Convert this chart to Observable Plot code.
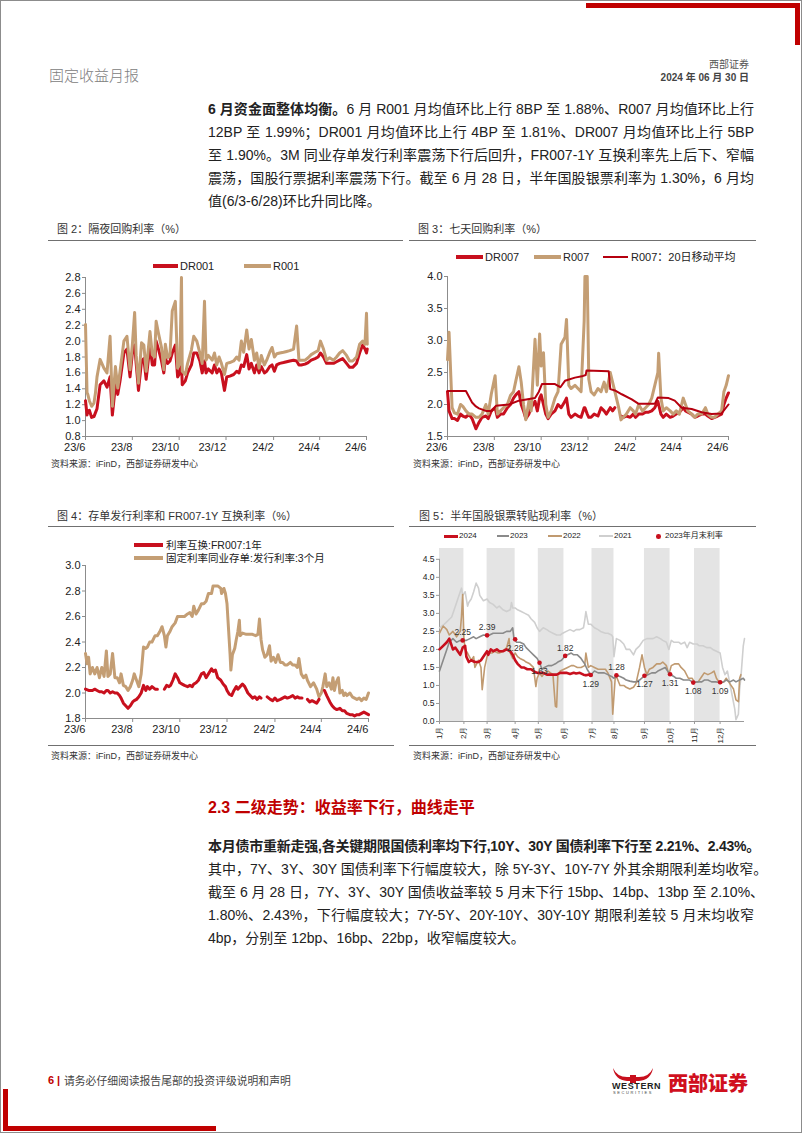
<!DOCTYPE html>
<html><head><meta charset="utf-8">
<script src="https://cdn.jsdelivr.net/npm/d3@7"></script>
<script src="https://cdn.jsdelivr.net/npm/@observablehq/plot@0.6"></script>
<style>
html,body{margin:0;padding:0;background:#fff;}
#page{position:relative;width:802px;height:1133px;overflow:hidden;box-sizing:border-box;border:1px solid #8c8c8c;
 font-family:"Liberation Sans","Noto Sans CJK SC",sans-serif;color:#222;}
.abs{position:absolute;white-space:nowrap;}
.jl{position:absolute;white-space:nowrap;width:546px;text-align:justify;text-align-last:justify;font-size:14px;line-height:20px;height:20px;}
.pl{position:absolute;white-space:nowrap;font-size:14px;line-height:20px;height:20px;}
.chart{position:absolute;}
</style>
</head><body><div id="page"></div>
<script>
// ---------------- DATA ----------------
// Fig 2: overnight repo (day offsets from 2023-06-28)
const days2 = [0,2,3,5,8,11,13,15,19,24,28,32,35,39,42,45,50,54,58,61,64,66,69,73,76,79,84,87,90,92,95,99,102,104,107,110,113,117,120,123,125,126,130,133,138,141,145,149,152,155,157,160,165,168,171,174,177,181,184,188,193,197,200,203,206,210,213,216,220,223,226,229,233,236,240,243,246,249,253,258,262,266,271,275,278,281,286,290,294,299,303,306,310,314,318,323,327,331,335,340,344,348,353,357,361,364,366,367];
const r001 = [2.21,1.35,1.33,1.25,1.18,1.22,1.35,1.55,1.77,1.66,
 1.6,2.06,1.18,1.68,1.41,1.62,2.0,2.06,1.64,1.95,
 2.36,1.82,1.47,1.98,1.95,1.62,2.12,1.83,1.8,2.25,
 2.1,1.92,1.64,1.96,1.79,1.82,2.38,2.5,1.66,1.72,
 2.8,1.62,1.58,1.72,1.89,2.06,2.0,1.85,1.72,2.5,
 1.76,1.82,1.76,1.85,1.7,1.8,1.72,1.58,1.72,1.73,
 1.75,1.8,1.76,2.0,1.86,2.14,1.9,2.02,1.76,1.85,
 1.66,1.82,1.7,1.76,1.86,1.92,1.8,1.84,1.85,1.86,
 1.87,1.88,1.9,2.19,1.76,1.76,1.76,1.79,1.83,1.86,
 1.88,2.0,1.9,1.76,1.79,1.76,1.8,1.85,1.88,1.82,
 1.75,1.75,1.8,1.96,2.0,1.96,2.35,1.96];
const dr001 = [1.25,1.07,1.12,1.13,1.04,1.05,1.1,1.15,1.45,1.5,
 1.42,1.55,1.07,1.45,1.33,1.5,1.85,1.9,1.55,1.85,
 1.95,1.72,1.38,1.75,1.78,1.52,1.95,1.7,1.7,2.0,
 1.9,1.75,1.6,1.78,1.72,1.75,1.85,1.95,1.55,1.6,
 1.75,1.45,1.5,1.6,1.7,1.85,1.85,1.75,1.6,1.75,
 1.6,1.65,1.6,1.7,1.6,1.65,1.6,1.38,1.55,1.56,
 1.58,1.62,1.6,1.7,1.68,1.83,1.65,1.72,1.6,1.7,
 1.6,1.68,1.6,1.62,1.68,1.7,1.62,1.7,1.72,1.73,
 1.74,1.75,1.76,1.75,1.7,1.7,1.71,1.73,1.76,1.78,
 1.8,1.85,1.8,1.72,1.72,1.72,1.74,1.76,1.78,1.72,
 1.67,1.67,1.72,1.85,1.95,1.9,1.85,1.9];
const ticks2Y = [0.8,1.0,1.2,1.4,1.6,1.8,2.0,2.2,2.4,2.6,2.8];

// Fig 3: 7-day repo
const days3 = [0,2,6,9,13,17,20,24,28,32,37,41,45,50,53,57,62,65,69,73,78,82,86,89,93,96,99,102,106,109,114,117,120,122,125,128,131,135,140,144,148,153,155,158,161,166,170,174,178,179,182,184,187,191,196,200,204,207,212,215,218,223,226,229,233,238,242,245,249,254,258,262,266,270,274,275,278,281,285,290,294,298,302,307,310,313,318,322,326,331,336,339,344,348,352,357,360,363,366];
const r007 = [2.7,3.13,1.95,1.87,1.85,2.0,1.97,1.9,1.85,1.85,
 1.8,1.8,1.85,2.0,1.85,2.16,2.45,1.85,1.9,1.95,
 2.0,2.14,2.2,2.37,2.59,2.35,2.0,1.76,2.05,1.9,
 3.02,2.3,3.1,2.6,2.81,2.0,1.8,1.9,2.1,2.2,
 2.94,3.05,3.33,2.3,2.25,2.3,2.25,2.2,3.3,4.0,
 4.0,2.4,2.2,2.15,2.25,2.2,2.35,2.2,2.5,2.35,
 2.2,1.95,1.76,1.8,1.85,1.95,1.9,1.85,2.0,1.9,
 1.95,2.0,2.1,2.3,2.5,2.8,2.1,1.9,1.95,1.9,
 1.85,1.9,1.85,2.1,2.0,1.9,1.85,1.8,1.85,1.85,
 1.95,1.85,1.8,1.8,1.85,1.9,2.2,2.3,2.45];
const dr007 = [2.2,1.9,1.78,1.78,1.75,1.85,1.82,1.8,1.85,1.78,
 1.62,1.72,1.8,1.82,1.78,1.9,1.95,1.8,1.85,1.85,
 1.95,2.0,2.1,2.15,2.2,2.0,1.9,1.78,1.85,1.95,
 2.05,1.9,2.1,2.15,2.0,1.85,1.78,1.85,1.9,2.0,
 1.95,2.05,2.1,1.85,1.8,1.85,1.82,1.8,1.95,1.95,
 1.85,1.8,1.8,1.85,1.82,1.95,1.9,1.85,1.95,1.9,
 1.95,null,1.82,1.8,1.82,1.8,1.85,1.8,1.85,1.85,
 1.88,1.88,1.9,1.95,2.05,2.0,1.85,1.8,1.85,1.8,
 1.82,1.85,1.88,1.95,1.9,1.88,1.85,1.8,1.82,1.85,
 1.85,1.82,1.78,1.8,1.82,1.85,2.0,2.1,2.18];
const maDays = [0,24,28,32,37,41,50,58,63,80,93,114,119,123,140,147,153,166,175,180,181,210,212,218,227,240,249,270,274,288,296,305,318,331,344,357,366];
const r007ma20 = [2.21,2.21,2.12,2.03,1.97,1.94,1.9,1.9,1.98,2.0,2.06,2.1,2.2,2.32,2.32,2.27,2.37,2.42,2.44,2.46,2.53,2.52,2.24,2.22,2.16,2.08,2.01,2.01,2.11,2.1,2.06,1.95,1.93,1.88,1.85,1.86,2.0];
const ticks3Y = [1.5,2.0,2.5,3.0,3.5,4.0];

// Fig 4: CD issuance rate and FR007-1Y swap
const daysCd = [0,2,4,6,9,12,15,18,21,24,27,29,32,35,38,41,44,46,49,52,55,58,61,63,66,69,72,75,78,80,83,86,90,93,96,99,102,104,106,109,112,116,119,122,125,128,132,135,138,140,143,146,150,153,156,159,163,165,168,171,175,176,179,181,183,185,187,188,190,193,195,197,199,200,203,208,212,216,220,223,225,227,229,232,235,238,240,243,246,249,252,255,258,261,265,268,271,274,276,279,282,285,287,291,295,299,302,305,307,310,312,315,318,320,322,324,327,329,332,334,336,338,342,345,348,351,354,357,360,363,366];
const cd3m = [2.31,2.23,2.28,2.15,2.2,2.15,2.2,2.12,2.2,2.13,
 2.33,2.13,2.15,2.31,2.12,2.12,2.08,2.15,2.06,2.05,
 2.02,2.05,2.1,2.15,2.1,2.05,2.15,2.36,2.35,2.36,
 2.4,2.4,2.45,2.45,2.48,2.52,2.45,2.36,2.45,2.48,
 2.52,2.55,2.6,2.6,2.6,2.6,2.62,2.63,2.6,2.68,
 2.62,2.65,2.7,2.7,2.72,2.78,2.78,2.84,2.84,2.84,
 2.82,2.78,2.82,2.78,2.7,2.5,2.3,2.18,2.3,2.35,
 2.42,2.48,2.57,2.45,2.47,2.46,2.46,2.46,2.45,2.46,
 2.58,2.42,2.34,2.28,2.3,2.37,2.25,2.28,2.24,2.3,
 2.24,2.24,2.22,2.22,2.24,2.22,2.22,2.2,2.27,2.15,
 2.12,2.14,2.1,2.05,2.08,2.03,1.97,2.0,2.05,2.15,
 2.05,2.08,2.03,2.12,2.02,2.08,2.12,2.0,2.02,1.98,
 2.0,1.98,2.0,1.97,1.96,1.95,1.96,1.94,1.96,1.95,
 2.0];
const daysSwap = [0,4,9,12,15,18,21,24,27,29,32,35,38,41,44,46,49,52,55,58,61,63,66,69,72,75,78,80,83,86,90,93,94,102,105,108,110,113,116,119,122,125,128,132,135,138,140,143,146,150,153,156,159,163,165,168,171,175,178,181,183,186,189,192,195,197,200,203,206,210,213,216,219,222,225,227,229,235,239,242,245,248,252,255,258,261,265,268,271,274,277,280,283,287,290,293,296,299,302,306,309,312,316,319,322,325,329,332,335,338,342,345,348,351,354,357,360,363,366];
const fr007swap1y = [2.03,2.02,2.02,2.03,2.02,2.01,2.01,2.0,2.02,2.02,
 2.0,2.01,2.0,2.0,1.98,1.96,1.92,1.9,1.88,1.9,
 1.93,1.94,1.95,1.97,2.0,2.06,2.02,2.05,2.03,2.05,
 2.03,2.03,null,2.03,2.06,2.05,2.06,2.1,2.15,2.12,
 2.08,2.07,2.06,2.05,2.06,2.05,2.07,2.08,2.1,2.15,
 2.16,2.12,2.15,2.19,2.17,2.18,2.12,2.1,2.07,2.05,
 2.02,1.99,1.98,2.02,2.05,2.03,2.05,2.07,2.05,2.0,
 1.98,1.96,1.97,1.95,1.97,1.96,null,1.97,1.95,1.94,
 1.96,1.94,1.95,1.96,1.97,1.96,1.97,1.98,1.96,1.97,
 1.96,1.96,null,1.95,1.93,1.94,1.93,1.92,1.95,null,
 2.02,1.98,1.93,1.9,1.88,1.87,1.88,1.86,1.86,1.84,
 1.83,1.83,1.82,1.83,1.83,1.84,1.85,1.84,1.83];
const ticks4Y = [1.8,2.0,2.2,2.4,2.6,2.8,3.0];
const xTickLabels = ["23/6","23/8","23/10","23/12","24/2","24/4","24/6"];

// Fig 5: half-year bank acceptance discount rate, [trading-day position in year, rate]
const monthLabels = ["1月","2月","3月","4月","5月","6月","7月","8月","9月","10月","11月","12月"];
const monthPos = [0,20,39,62,81,102,125,143,168,189,209,230];
const shadedMonths = [0,2,4,6,8,10];
const y2021 = [[0,2.6],[4,2.7],[10,2.9],[13,3.2],[15,3.4],[18,3.7],[19,3.5],[21,3.6],[23,3.2],[24,3.3],[26,3.4],[28,3.6],[30,3.84],[32,3.7],[33,3.5],[36,3.35],[39,3.4],[41,3.3],[44,3.25],[47,3.15],[49,3.2],[52,3.1],[55,3.05],[58,3.1],[59,3.3],[60,3.15],[62,3.15],[64,3.1],[67,3.05],[70,3.0],[73,2.95],[75,2.85],[78,2.75],[80,2.6],[82,2.5],[85,2.6],[88,2.55],[90,2.5],[93,2.45],[96,2.4],[99,2.4],[101,2.45],[104,2.5],[107,2.55],[110,2.5],[112,2.55],[115,2.55],[118,2.6],[119,2.8],[120,3.05],[122,2.7],[124,2.7],[127,2.6],[130,2.55],[132,2.5],[136,2.45],[138,2.45],[141,2.4],[142,2.35],[143,1.8],[145,2.3],[148,2.25],[151,2.15],[153,2.0],[156,2.0],[159,1.85],[161,2.0],[164,2.1],[167,2.25],[170,2.3],[172,2.3],[175,2.3],[178,2.35],[181,2.3],[183,2.25],[186,2.2],[188,2.0],[190,2.25],[192,2.2],[196,2.2],[198,2.15],[201,2.2],[203,2.05],[205,2.2],[208,2.15],[211,2.15],[213,2.1],[216,2.1],[219,2.05],[222,2.05],[224,2.0],[227,1.95],[230,1.9],[232,1.5],[234,1.3],[236,1.4],[238,1.05],[240,0.7],[242,0.35],[243,0.05],[245,0.2],[246,0.9],[247,1.2],[249,2.1],[250,2.3]];
const y2022 = [[0,2.45],[3,2.65],[6,2.55],[8,2.4],[11,2.5],[14,2.35],[17,2.5],[18,2.9],[19,3.52],[20,2.3],[21,2.0],[23,1.9],[26,1.7],[28,1.8],[29,1.5],[32,1.7],[34,1.5],[35,0.88],[37,1.5],[39,1.8],[40,1.9],[43,1.9],[45,1.95],[48,1.9],[49,1.9],[52,1.95],[55,2.05],[57,2.3],[58,1.9],[60,1.75],[62,1.9],[64,1.8],[66,1.75],[69,1.7],[71,1.65],[74,1.6],[77,1.5],[79,0.97],[80,1.2],[82,1.35],[84,1.25],[86,1.35],[89,1.4],[91,1.35],[93,1.3],[95,0.42],[96,0.4],[97,1.3],[99,1.4],[102,1.45],[105,1.5],[108,1.55],[110,1.55],[113,1.5],[116,1.5],[119,1.55],[120,1.9],[122,1.5],[124,1.55],[127,1.5],[130,1.45],[133,1.45],[136,1.45],[138,1.35],[141,1.1],[142,0.2],[144,1.2],[145,1.25],[148,1.0],[151,1.0],[153,0.95],[156,0.9],[159,0.95],[161,1.05],[164,1.5],[166,1.85],[168,1.5],[170,1.3],[172,1.45],[175,1.5],[178,1.6],[181,1.6],[183,1.65],[186,1.55],[188,1.3],[190,1.55],[193,1.6],[196,1.6],[198,1.5],[201,1.4],[204,1.2],[207,1.2],[209,1.1],[212,1.1],[215,1.25],[217,1.35],[220,1.3],[223,1.35],[225,1.4],[227,1.2],[230,1.05],[233,1.1],[235,1.2],[238,1.05],[241,0.9],[243,0.6],[245,0.55],[246,1.2],[247,1.3]];
const y2023 = [[0,1.4],[3,1.7],[6,2.0],[8,2.2],[11,2.3],[14,2.2],[17,2.25],[19,2.24],[22,2.25],[25,2.3],[28,2.35],[30,2.3],[33,2.35],[36,2.4],[39,2.39],[41,2.4],[44,2.45],[47,2.45],[49,2.45],[52,2.45],[55,2.5],[58,2.5],[60,2.6],[61,2.3],[62,2.28],[63,2.2],[66,2.2],[69,2.15],[71,2.05],[74,1.95],[77,1.85],[80,1.75],[82,1.63],[84,1.45],[86,1.5],[89,1.55],[92,1.55],[95,1.6],[97,1.65],[100,1.7],[103,1.82],[105,1.85],[108,1.9],[110,1.85],[113,1.85],[116,1.75],[119,1.6],[121,1.45],[124,1.29],[127,1.4],[130,1.35],[132,1.35],[135,1.35],[138,1.3],[141,1.25],[143,1.2],[145,1.28],[148,1.25],[151,1.2],[153,1.15],[156,1.12],[159,1.1],[161,1.1],[164,1.15],[168,1.27],[171,1.3],[174,1.35],[177,1.35],[179,1.4],[182,1.45],[185,1.5],[187,1.4],[189,1.31],[192,1.25],[194,1.2],[197,1.2],[200,1.15],[202,1.15],[205,1.15],[208,1.08],[212,1.1],[215,1.1],[217,1.15],[220,1.15],[223,1.1],[226,1.1],[230,1.09],[233,1.1],[235,1.15],[238,1.1],[241,1.15],[243,1.1],[246,1.15],[249,1.2],[250,1.15]];
const y2024 = [[0,2.0],[3,2.1],[6,2.2],[8,2.3],[9,2.2],[11,2.0],[13,2.05],[15,1.95],[17,1.85],[19,2.05],[21,2.1],[22,1.8],[24,1.65],[26,1.7],[29,1.65],[32,1.65],[34,1.7],[37,1.85],[39,1.95],[40,1.85],[42,2.0],[44,1.95],[47,2.0],[49,1.95],[52,1.95],[55,2.0],[58,1.95],[60,1.85],[62,1.7],[64,1.6],[67,1.5],[69,1.5],[72,1.45],[75,1.45],[77,1.4],[80,1.35],[82,1.35],[85,1.35],[88,1.3],[90,1.3],[93,1.3],[96,1.3],[99,1.35],[101,1.35],[104,1.35],[107,1.32],[110,1.35],[112,1.33],[115,1.35],[118,1.3],[120,1.28],[122,1.3],[124,1.3]];
const monthEnd2023 = [[19,2.25],[39,2.39],[62,2.28],[82,1.63],[103,1.82],[124,1.29],[145,1.28],[168,1.27],[189,1.31],[208,1.08],[230,1.09]];
const ticks5Y = [0,0.5,1.0,1.5,2.0,2.5,3.0,3.5,4.0,4.5];

// ---------------- RENDER ----------------
const RED = "#c8101e", TAN = "#c49e74", DKRED = "#b5000f";
const G23 = "#8a8a8a", G21 = "#cfcfcf", T22 = "#c09a70";
const page = document.getElementById("page");

function el(html, css, cls = "abs") {
  const d = document.createElement("div");
  d.className = cls; d.innerHTML = html; d.style.cssText += css;
  page.appendChild(d); return d;
}
function txt(html, x, y, size, extra = "", anchor = "start") {
  const h = Math.round(size * 1.5);
  const pos = anchor === "end" ? `right:${802 - x}px;` : `left:${x}px;`;
  return el(html, `${pos}top:${y - h / 2}px;font-size:${size}px;line-height:${h}px;${extra}`);
}
function bar(x1, x2, y1, y2, color) {
  return el("", `left:${x1}px;top:${y1}px;width:${x2 - x1}px;height:${y2 - y1}px;background:${color};`);
}
function swatch(x1, x2, y, h, color) { return bar(x1, x2, y - h / 2, y + h / 2, color); }

// frame decorations
bar(585, 797, 2, 7, "#c00000");
bar(794, 799, 2, 44, "#c00000");
bar(2, 7, 1088, 1130, "#c00000");
bar(2, 215, 1125, 1130, "#c00000");

// header
txt("固定收益月报", 48, 73, 15, "color:#808080;font-family:'Noto Sans CJK SC';font-weight:300;");
txt("西部证券", 750, 62, 10, "color:#555;font-family:'Noto Sans CJK SC';", "end");
txt("2024 年 06 月 30 日", 750, 76, 10, "color:#444;font-weight:bold;", "end");

// body paragraph 1
const p1 = [
  "<b>6 月资金面整体均衡。</b>6 月 R001 月均值环比上行 8BP 至 1.88%、R007 月均值环比上行",
  "12BP 至 1.99%；DR001 月均值环比上行 4BP 至 1.81%、DR007 月均值环比上行 5BP",
  "至 1.90%。3M 同业存单发行利率震荡下行后回升，FR007-1Y 互换利率先上后下、窄幅",
  "震荡，国股行票据利率震荡下行。截至 6 月 28 日，半年国股银票利率为 1.30%，6 月均",
  "值(6/3-6/28)环比升同比降。"
];
p1.forEach((s, i) => {
  const last = i === p1.length - 1;
  el(s, `left:207px;top:${108 + 23 * i - 10}px;`, last ? "pl" : "jl");
});

// section heading + paragraph 2
txt("2.3 二级走势：收益率下行，曲线走平", 207, 807, 16, "color:#c00000;font-weight:bold;");
const p2 = [
  ["<b>本月债市重新走强,各关键期限国债利率均下行,10Y、30Y 国债利率下行至 2.21%、2.43%。</b>", "pl", "letter-spacing:-0.25px;"],
  ["其中，7Y、3Y、30Y 国债利率下行幅度较大，除 5Y-3Y、10Y-7Y 外其余期限利差均收窄。", "pl", ""],
  ["截至 6 月 28 日，7Y、3Y、30Y 国债收益率较 5 月末下行 15bp、14bp、13bp 至 2.10%、", "jl", ""],
  ["1.80%、2.43%，下行幅度较大；7Y-5Y、20Y-10Y、30Y-10Y 期限利差较 5 月末均收窄", "jl", ""],
  ["4bp，分别至 12bp、16bp、22bp，收窄幅度较大。", "pl", ""]
];
p2.forEach(([s, c, x], i) => el(s, `left:207px;top:${845 + 23 * i - 10}px;${x}`, c));

// footer
txt("6", 47, 1079, 11, "color:#c00000;font-weight:bold;");
txt("|", 56, 1079, 11, "color:#c00000;font-weight:bold;");
txt("请务必仔细阅读报告尾部的投资评级说明和声明", 63, 1079, 10.8, "color:#444;font-family:'Noto Sans CJK SC';");
el(`<svg width="44" height="16" viewBox="0 0 44 16"><path d="M2,1 Q6,10 16,10 L28,10 Q38,10 42,1 Q40,13 28,14 L16,14 Q4,13 2,1 Z" fill="#c8101e"/><rect x="19" y="8" width="6" height="8" fill="#c8101e"/></svg>`,
  "left:610px;top:1066px;line-height:0;");
txt("WESTERN", 611, 1085, 9, "font-weight:bold;color:#222;letter-spacing:0.6px;");
txt("SECURITIES", 612, 1091.5, 4, "color:#444;letter-spacing:1.6px;");
txt("西部证券", 667, 1082, 20, "color:#d0101e;font-weight:900;font-family:'Noto Sans CJK SC';");

// chart titles, rules, sources
const CJK = "font-family:'Liberation Sans','Noto Sans CJK SC';color:#333;";
txt("图 2：隔夜回购利率（%）", 56, 228, 11, CJK);
bar(47, 402, 238.5, 239.8, "#707070");
txt("资料来源：iFinD，西部证券研发中心", 50, 463, 9, CJK);
txt("图 3：七天回购利率（%）", 417, 228, 11, CJK);
bar(408, 755, 238.5, 239.8, "#707070");
txt("资料来源：iFinD，西部证券研发中心", 412, 463, 9, CJK);
txt("图 4：存单发行利率和 FR007-1Y 互换利率（%）", 56, 515, 11, CJK);
bar(47, 393, 524.5, 525.8, "#707070");
bar(47, 393, 743.5, 744.8, "#707070");
txt("资料来源：iFinD，西部证券研发中心", 50, 755, 9, CJK);
txt("图 5：半年国股银票转贴现利率（%）", 418, 515, 11, CJK);
bar(408, 755, 524.5, 525.8, "#707070");
bar(408, 755, 743.5, 744.8, "#707070");
txt("资料来源：iFinD，西部证券研发中心", 412, 755, 9, CJK);

// legends
const LG = "color:#222;";
swatch(152, 177, 265, 4, RED); txt("DR001", 179, 265, 11, LG);
swatch(243, 270, 265, 4, TAN); txt("R001", 272, 265, 11, LG);
swatch(455, 482, 256, 4, RED); txt("DR007", 484, 256, 11, LG);
swatch(533, 560, 256, 4, TAN); txt("R007", 562, 256, 11, LG);
swatch(602, 627, 256, 2.5, DKRED); txt("R007：20日移动平均", 630, 256, 11, LG);
swatch(133, 162, 544, 4, RED); txt("利率互换:FR007:1年", 165, 544, 10.5, LG);
swatch(133, 162, 557, 4, TAN); txt("固定利率同业存单:发行利率:3个月", 165, 557, 10.5, LG);
swatch(443, 457, 535, 3, RED); txt("2024", 458, 535, 8, LG);
swatch(496, 508, 535, 1.6, G23); txt("2023", 509, 535, 8, LG);
swatch(547, 561, 535, 1.6, T22); txt("2022", 562, 535, 8, LG);
swatch(598, 612, 535, 1.6, G21); txt("2021", 613, 535, 8, LG);
el("", `left:655px;top:533px;width:4.6px;height:4.6px;border-radius:50%;background:${RED};`);
txt("2023年月末利率", 664, 535, 8, LG);

// ---------- charts ----------
const toDate = d => new Date(2023, 5, 28 + d);
const xTickDates = xTickLabels.map((s, i) => new Date(2023, 5 + 2 * i, 28));
const fmtX = d => xTickLabels[xTickDates.findIndex(t => +t === +d)];
const rows = (days, vals) => days.map((d, i) => ({date: toDate(d), v: vals[i] == null ? NaN : vals[i]}));
const STYLE = "font-family:'Liberation Sans',Arial,sans-serif;font-size:11px;color:#222;background:transparent;overflow:visible;";

function place(svg, left, top) {
  const w = document.createElement("div");
  w.className = "chart"; w.style.left = left + "px"; w.style.top = top + "px";
  w.appendChild(svg); page.appendChild(w);
}

function timeChart({left, top, width, height, ml, mr, mt, mb, yDomain, yTicks, lines}) {
  const svg = Plot.plot({
    width, height, marginLeft: ml, marginRight: mr, marginTop: mt, marginBottom: mb,
    x: {type: "time", domain: [toDate(0), toDate(366)], label: null},
    y: {domain: yDomain, label: null},
    style: STYLE,
    marks: [
      Plot.ruleX([toDate(0)], {stroke: "#8c8c8c", strokeWidth: 1}),
      Plot.ruleY([yDomain[0]], {stroke: "#8c8c8c", strokeWidth: 1}),
      Plot.axisY({ticks: yTicks, tickFormat: d3.format(".1f"), tickSize: 3, tickPadding: 2, stroke: "#8c8c8c", label: null}),
      Plot.axisX({ticks: xTickDates, tickFormat: fmtX, tickSize: 4, tickPadding: 3, textAnchor: "end", stroke: "#8c8c8c", label: null}),
      ...lines.map(l => Plot.line(l.data, {x: "date", y: "v", stroke: l.color, strokeWidth: l.w, strokeLinejoin: "round"}))
    ]
  });
  place(svg, left, top);
}

timeChart({left: 40, top: 268, width: 360, height: 187, ml: 44, mr: 35, mt: 8, mb: 20,
  yDomain: [0.8, 2.8], yTicks: ticks2Y,
  lines: [{data: rows(days2, dr001), color: RED, w: 3}, {data: rows(days2, r001), color: TAN, w: 3}]});

timeChart({left: 400, top: 267, width: 360, height: 188, ml: 46, mr: 33, mt: 8, mb: 20,
  yDomain: [1.5, 4.0], yTicks: ticks3Y,
  lines: [{data: rows(days3, dr007), color: RED, w: 3}, {data: rows(days3, r007), color: TAN, w: 3},
          {data: rows(maDays, r007ma20), color: DKRED, w: 2}]});

timeChart({left: 40, top: 556, width: 360, height: 181, ml: 44, mr: 33, mt: 8, mb: 20,
  yDomain: [1.8, 3.0], yTicks: ticks4Y,
  lines: [{data: rows(daysCd, cd3m), color: TAN, w: 3}, {data: rows(daysSwap, fr007swap1y), color: RED, w: 3}]});

// Fig 5
const labelAbove = new Set([0, 1, 4, 6]);
const fig5 = Plot.plot({
  width: 360, height: 202, marginLeft: 38, marginRight: 17, marginTop: 7, marginBottom: 22,
  x: {domain: [0, 250], label: null}, y: {domain: [0, 4.8], label: null},
  style: STYLE,
  marks: [
    Plot.rect(shadedMonths, {x1: i => monthPos[i], x2: i => monthPos[i + 1], y1: () => 0, y2: () => 4.8, fill: "#e4e4e4"}),
    Plot.ruleX([0], {y1: 0, y2: 4.5, stroke: "#9a9a9a"}),
    Plot.ruleY([0], {stroke: "#9a9a9a"}),
    Plot.axisY({ticks: ticks5Y, tickFormat: d3.format(".1f"), tickSize: 3, tickPadding: 2, fontSize: 8.5, stroke: "#9a9a9a", label: null}),
    Plot.axisX({ticks: monthPos, tickFormat: d => monthLabels[monthPos.indexOf(d)], tickRotate: -90, tickSize: 3, tickPadding: 2, fontSize: 8, stroke: "#9a9a9a", label: null}),
    Plot.line(y2021, {x: d => d[0], y: d => d[1], stroke: G21, strokeWidth: 1.6}),
    Plot.line(y2022, {x: d => d[0], y: d => d[1], stroke: T22, strokeWidth: 1.6}),
    Plot.line(y2023, {x: d => d[0], y: d => d[1], stroke: G23, strokeWidth: 1.6}),
    Plot.line(y2024, {x: d => d[0], y: d => d[1], stroke: RED, strokeWidth: 2.6}),
    Plot.dot(monthEnd2023, {x: d => d[0], y: d => d[1], r: 2.3, fill: RED}),
    Plot.text(monthEnd2023.filter((d, i) => labelAbove.has(i)), {x: d => d[0], y: d => d[1], text: d => d[1].toFixed(2), dy: -8, fontSize: 8.5, fill: "#333"}),
    Plot.text(monthEnd2023.filter((d, i) => !labelAbove.has(i)), {x: d => d[0], y: d => d[1], text: d => d[1].toFixed(2), dy: 9, fontSize: 8.5, fill: "#333"})
  ]
});
place(fig5, 400, 540);
</script>
</body></html>
